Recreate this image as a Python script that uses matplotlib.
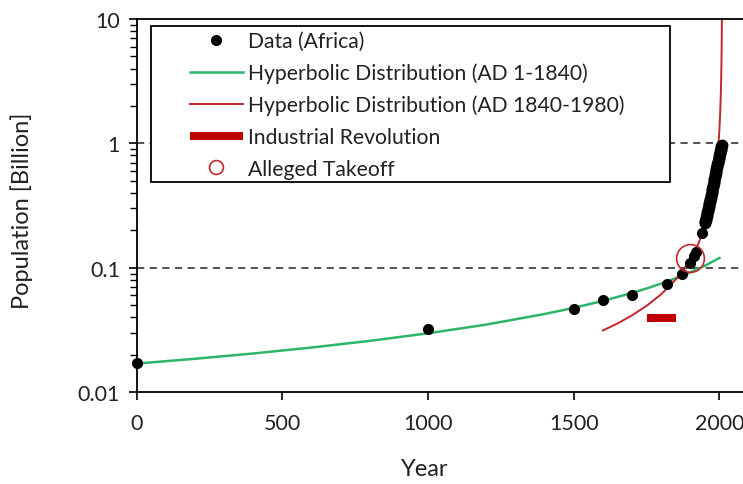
import matplotlib
matplotlib.use("Agg")
import matplotlib.pyplot as plt
from matplotlib.lines import Line2D
from matplotlib.patches import Rectangle

plt.rcParams['font.family'] = ['Lato', 'DejaVu Sans']

# Data (Africa), population in billions
years_early = [1, 1000, 1500, 1600, 1700, 1820, 1870, 1900, 1913, 1920, 1940]
pop_early = [0.0172, 0.032, 0.047, 0.055, 0.061, 0.074, 0.090, 0.110, 0.124, 0.135, 0.190]

years_modern = list(range(1950, 2009))
pop_modern = [0.228, 0.233, 0.238, 0.243, 0.249, 0.255, 0.261, 0.267, 0.274, 0.280,
              0.285, 0.293, 0.300, 0.308, 0.316, 0.324, 0.332, 0.341, 0.350, 0.358,
              0.366, 0.377, 0.387, 0.398, 0.409, 0.420, 0.432, 0.444, 0.457, 0.467,
              0.478, 0.492, 0.506, 0.521, 0.536, 0.551, 0.567, 0.583, 0.599, 0.614,
              0.630, 0.646, 0.662, 0.679, 0.695, 0.712, 0.729, 0.747, 0.765, 0.784,
              0.803, 0.823, 0.843, 0.863, 0.883, 0.903, 0.924, 0.945, 0.967]

# Hyperbolic distribution (AD 1-1840)
green_years = [0, 200, 400, 600, 800, 1000, 1200, 1400, 1500, 1600, 1700, 1750, 1800,
               1850, 1900, 1950, 2000]
green_pop = [0.0170, 0.0186, 0.0205, 0.0229, 0.0259, 0.0298, 0.0350, 0.0426, 0.0477,
             0.0542, 0.0629, 0.0683, 0.0747, 0.0825, 0.0921, 0.104, 0.120]

# Hyperbolic distribution (AD 1840-1980)
red_years = [1600, 1650, 1700, 1750, 1800, 1850, 1875, 1900, 1925, 1950, 1960, 1970,
             1980, 1990, 1995, 2000, 2003, 2005, 2007, 2008, 2009]
red_pop = [0.0314, 0.0357, 0.0415, 0.0495, 0.0613, 0.0804, 0.0953, 0.117, 0.151,
           0.2145, 0.257, 0.322, 0.429, 0.644, 0.858, 1.287, 1.84, 2.57, 4.29, 6.4, 12.9]

ind_rev_years = [1750, 1850]
ind_rev_level = 0.0397
takeoff_year = [1900]
takeoff_pop = [0.120]

W, H = 743, 485
fig = plt.figure(figsize=(W / 100, H / 100), dpi=100)
left, right, top, bottom = 136.7, 743, 20, 393.3
ax = fig.add_axes([left / W, 1 - bottom / H, (right - left) / W, (bottom - top) / H])

ax.set_yscale('log')
ax.set_xlim(0, 2081)
ax.set_ylim(0.01, 10)

ax.axhline(0.1, color='#444444', lw=1.3, dashes=(4, 3), zorder=1)
ax.axhline(1, color='#444444', lw=1.3, dashes=(4, 3), zorder=1)

ax.plot(green_years, green_pop, color='#2db56a', lw=1.8, zorder=2)
ax.plot(red_years, red_pop, color='#c1272d', lw=1.4, zorder=2)
ax.plot(ind_rev_years, [ind_rev_level, ind_rev_level], color='#c00000', lw=5.8,
        solid_capstyle='butt', zorder=2)
ax.plot(years_early, pop_early, 'o', color='black', ms=7, zorder=3, clip_on=False)
ax.plot(years_modern, pop_modern, 'o', color='black', ms=7.5, zorder=3)
ax.plot(takeoff_year, takeoff_pop, 'o', mfc='none', mec='#c0282d', ms=20, mew=1.2, zorder=4)

ax.spines['right'].set_visible(False)
for s in ['left', 'bottom', 'top']:
    ax.spines[s].set_linewidth(1.3)

ax.set_xticks([0, 500, 1000, 1500, 2000])
ax.set_yticks([0.01, 0.1, 1, 10])
ax.set_yticklabels(['0.01', '0.1', '1', '10'])
ax.tick_params(axis='both', which='major', direction='out', length=6, width=1.2,
               labelsize=15.5, colors='black', labelcolor='#222222')
ax.tick_params(axis='y', which='minor', direction='out', length=5, width=1.0)
ax.tick_params(axis='x', pad=9)
ax.tick_params(axis='y', pad=6)

ax.set_xlabel('Year', fontsize=17, color='#222222', va='center')
ax.set_ylabel('Population [Billion]', fontsize=17, color='#222222', va='center')
ax.xaxis.set_label_coords((425 - left) / (right - left), (bottom - 470) / (bottom - top))
ax.yaxis.set_label_coords((22 - left) / (right - left), (bottom - 211) / (bottom - top))

# legend box
bx0, bx1, by0, by1 = 150.7, 670, 26.7, 183
ax.add_patch(Rectangle(((bx0 - left) / (right - left), (bottom - by1) / (bottom - top)),
                       (bx1 - bx0) / (right - left), (by1 - by0) / (bottom - top),
                       transform=ax.transAxes, facecolor='white', edgecolor='black',
                       lw=1.3, zorder=5))

handles = [
    Line2D([], [], ls='none', marker='o', color='black', ms=7),
    Line2D([], [], color='#2db56a', lw=1.8),
    Line2D([], [], color='#c1272d', lw=1.4),
    Line2D([], [], color='#c00000', lw=5.8, solid_capstyle='butt'),
    Line2D([], [], ls='none', marker='o', mfc='none', mec='#c0282d', ms=10, mew=1.2),
]
labels = ['Data (Africa)', 'Hyperbolic Distribution (AD 1-1840)',
          'Hyperbolic Distribution (AD 1840-1980)', 'Industrial Revolution',
          'Alleged Takeoff']
leg = ax.legend(handles, labels, loc='upper left',
                bbox_to_anchor=((190 - left) / (right - left), (bottom - 32) / (bottom - top)),
                bbox_transform=ax.transAxes, frameon=False, fontsize=15.2,
                handlelength=2.5, handletextpad=0.25, labelspacing=0.55,
                borderaxespad=0, borderpad=0)
leg.set_zorder(6)
for t in leg.get_texts():
    t.set_color('#222222')

fig.savefig('out.png', dpi=100)
